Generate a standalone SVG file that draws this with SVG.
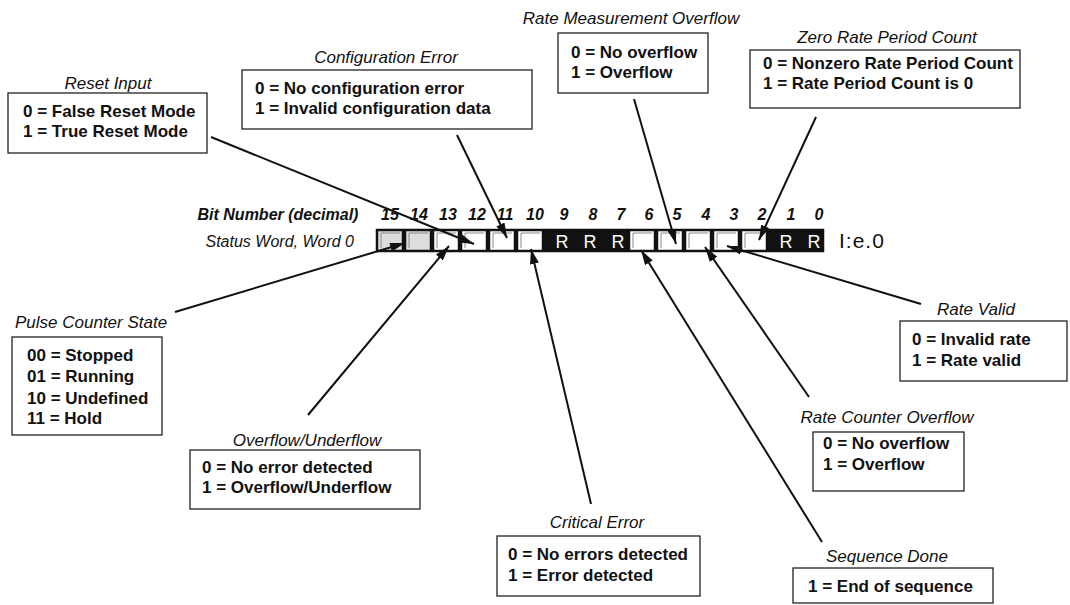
<svg xmlns="http://www.w3.org/2000/svg" width="1070" height="605" viewBox="0 0 1070 605">
<style>
text{font-family:"Liberation Sans",Arial,sans-serif;fill:#111}
.lbl{font-size:17px;font-style:italic}
.val{font-size:17px;font-weight:bold}
.box{fill:#fff;stroke:#222;stroke-width:1.3}
.bitn{font-size:16px;font-weight:bold;font-style:italic;text-anchor:middle}
.hdr{font-size:16px;text-anchor:end}
.cw{fill:#fff;stroke:#111;stroke-width:2.5}
.cg{fill:#ddd;stroke:#111;stroke-width:2.5}
.cb{fill:#111;stroke:#111;stroke-width:2.5}
.inner{fill:none;stroke:#888;stroke-width:1}
.r{font-size:18px;fill:#fff;text-anchor:middle}
.con line{stroke:#111;stroke-width:2;marker-end:url(#ah)}
.mid{text-anchor:middle}
</style>
<defs>
<marker id="ah" markerUnits="userSpaceOnUse" markerWidth="16" markerHeight="10" refX="15" refY="5" orient="auto">
<path d="M0,0.5 L15,5 L0,9.5 Z" fill="#111"/>
</marker>
</defs>

<g id="register">
<text class="bitn" x="278" y="220">Bit Number (decimal)</text>
<text class="hdr" x="354" y="247" font-style="italic">Status Word, Word 0</text>
<g class="bits">
<text class="bitn" x="390" y="220">15</text>
<text class="bitn" x="419" y="220">14</text>
<text class="bitn" x="448" y="220">13</text>
<text class="bitn" x="477" y="220">12</text>
<text class="bitn" x="505" y="220">11</text>
<text class="bitn" x="535" y="220">10</text>
<text class="bitn" x="564" y="220">9</text>
<text class="bitn" x="593" y="220">8</text>
<text class="bitn" x="621" y="220">7</text>
<text class="bitn" x="649" y="220">6</text>
<text class="bitn" x="677" y="220">5</text>
<text class="bitn" x="706" y="220">4</text>
<text class="bitn" x="734" y="220">3</text>
<text class="bitn" x="762" y="220">2</text>
<text class="bitn" x="791" y="220">1</text>
<text class="bitn" x="819" y="220">0</text>
</g>
<rect class="cg" x="377" y="230" width="26" height="21"/>
<rect class="cg" x="405" y="230" width="26" height="21"/>
<rect class="cw" x="433" y="230" width="26" height="21"/>
<rect class="cw" x="461" y="230" width="26" height="21"/>
<rect class="cw" x="489" y="230" width="26" height="21"/>
<rect class="cw" x="517" y="230" width="26" height="21"/>
<rect class="cb" x="545" y="230" width="26" height="21"/>
<rect class="cb" x="573" y="230" width="26" height="21"/>
<rect class="cb" x="601" y="230" width="26" height="21"/>
<rect class="cw" x="629" y="230" width="26" height="21"/>
<rect class="cw" x="657" y="230" width="26" height="21"/>
<rect class="cw" x="685" y="230" width="26" height="21"/>
<rect class="cw" x="713" y="230" width="26" height="21"/>
<rect class="cw" x="741" y="230" width="26" height="21"/>
<rect class="cb" x="769" y="230" width="26" height="21"/>
<rect class="cb" x="797" y="230" width="26" height="21"/>
<path class="inner" d="M381,248 V233 H400 M409,248 V233 H428 M437,248 V233 H456 M465,248 V233 H484 M493,248 V233 H512 M521,248 V233 H540 M633,248 V233 H652 M661,248 V233 H680 M689,248 V233 H708 M717,248 V233 H736 M745,248 V233 H764"/>
<text class="r" x="562" y="248">R</text>
<text class="r" x="590" y="248">R</text>
<text class="r" x="618" y="248">R</text>
<text class="r" x="786" y="248">R</text>
<text class="r" x="814" y="248">R</text>
<text x="839" y="248" style="font-size:21px;letter-spacing:1px">I:e.0</text>
</g>

<g id="reset-input">
<text class="lbl mid" x="108" y="89">Reset Input</text>
<rect class="box" x="8" y="93" width="199" height="60"/>
<text class="val" x="23" y="117">0 = False Reset Mode</text>
<text class="val" x="23" y="137">1 = True Reset Mode</text>
</g>

<g id="configuration-error">
<text class="lbl mid" x="386" y="63">Configuration Error</text>
<rect class="box" x="242" y="70" width="290" height="59"/>
<text class="val" x="255" y="94">0 = No configuration error</text>
<text class="val" x="255" y="114">1 = Invalid configuration data</text>
</g>

<g id="rate-measurement-overflow">
<text class="lbl mid" x="631" y="24">Rate Measurement Overflow</text>
<rect class="box" x="558" y="33" width="150" height="60"/>
<text class="val" x="571" y="58">0 = No overflow</text>
<text class="val" x="571" y="78">1 = Overflow</text>
</g>

<g id="zero-rate-period-count">
<text class="lbl mid" x="887" y="43">Zero Rate Period Count</text>
<rect class="box" x="750" y="50" width="270" height="58"/>
<text class="val" x="763" y="69">0 = Nonzero Rate Period Count</text>
<text class="val" x="763" y="89">1 = Rate Period Count is 0</text>
</g>

<g id="pulse-counter-state">
<text class="lbl" x="15" y="328">Pulse Counter State</text>
<rect class="box" x="12" y="337" width="150" height="98"/>
<text class="val" x="27" y="361">00 = Stopped</text>
<text class="val" x="27" y="382">01 = Running</text>
<text class="val" x="27" y="404">10 = Undefined</text>
<text class="val" x="27" y="424">11 = Hold</text>
</g>

<g id="overflow-underflow">
<text class="lbl mid" x="307" y="446">Overflow/Underflow</text>
<rect class="box" x="190" y="450" width="230" height="59"/>
<text class="val" x="202" y="473">0 = No error detected</text>
<text class="val" x="202" y="493">1 = Overflow/Underflow</text>
</g>

<g id="critical-error">
<text class="lbl mid" x="597" y="528">Critical Error</text>
<rect class="box" x="497" y="536" width="203" height="60"/>
<text class="val" x="508" y="560">0 = No errors detected</text>
<text class="val" x="508" y="581">1 = Error detected</text>
</g>

<g id="sequence-done">
<text class="lbl mid" x="887" y="562">Sequence Done</text>
<rect class="box" x="793" y="568" width="200" height="35"/>
<text class="val" x="808" y="592">1 = End of sequence</text>
</g>

<g id="rate-counter-overflow">
<text class="lbl mid" x="887" y="423">Rate Counter Overflow</text>
<rect class="box" x="813" y="432" width="151" height="59"/>
<text class="val" x="823" y="449">0 = No overflow</text>
<text class="val" x="823" y="470">1 = Overflow</text>
</g>

<g id="rate-valid">
<text class="lbl mid" x="976" y="315">Rate Valid</text>
<rect class="box" x="900" y="321" width="167" height="60"/>
<text class="val" x="912" y="345">0 = Invalid rate</text>
<text class="val" x="912" y="366">1 = Rate valid</text>
</g>

<g id="connectors" class="con">
<line x1="211" y1="137" x2="474" y2="244"/>
<line x1="457" y1="135" x2="507" y2="238"/>
<line x1="634" y1="99" x2="676" y2="244"/>
<line x1="816" y1="117" x2="759" y2="240"/>
<line x1="175" y1="312" x2="405" y2="243"/>
<line x1="308" y1="415" x2="449" y2="246"/>
<line x1="591" y1="504" x2="531" y2="249"/>
<line x1="822" y1="542" x2="641" y2="250"/>
<line x1="809" y1="397" x2="705" y2="247"/>
<line x1="921" y1="304" x2="727" y2="246"/>
</g>
</svg>
